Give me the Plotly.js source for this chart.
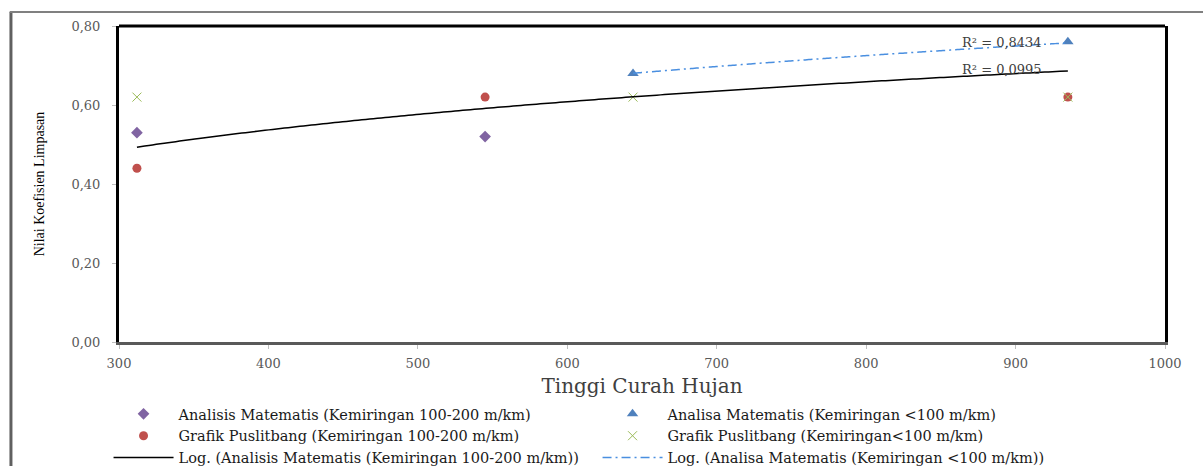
<!DOCTYPE html>
<html>
<head>
<meta charset="utf-8">
<script src="https://cdn.plot.ly/plotly-3.0.1.min.js"></script>
<style>html,body{margin:0;padding:0;background:#fff;}#chart{width:1203px;height:466px;}</style>
</head>
<body>
<div id="chart"></div>
<script>
// ---- data ----
var amSteepX = [312, 545];            // Analisis Matematis (Kemiringan 100-200 m/km)
var amSteepY = [0.53, 0.52];
var amFlatX = [644, 935];             // Analisa Matematis (Kemiringan <100 m/km)
var amFlatY = [0.68, 0.76];
var gpSteepX = [312, 545, 935];       // Grafik Puslitbang (Kemiringan 100-200 m/km)
var gpSteepY = [0.44, 0.62, 0.62];
var gpFlatX = [312, 644, 935];        // Grafik Puslitbang (Kemiringan<100 m/km)
var gpFlatY = [0.62, 0.62, 0.62];

// logarithmic trend lines y = a + b*ln(x), as drawn in the reference
var trendSteepRange = [312, 935];
var trendSteepCoef = [-0.517, 0.1759];
var trendSteepR2 = '0,0995';
var trendFlatRange = [644, 935];
var trendFlatCoef = [-0.656, 0.2066];
var trendFlatR2 = '0,8434';

var xTicks = [300, 400, 500, 600, 700, 800, 900, 1000];
var yTicks = [0, 0.2, 0.4, 0.6, 0.8];

function logCurve(range, coef) {
  var xs = [], ys = [], n = 120;
  for (var i = 0; i <= n; i++) {
    var x = range[0] + (range[1] - range[0]) * i / n;
    xs.push(x); ys.push(coef[0] + coef[1] * Math.log(x));
  }
  return {x: xs, y: ys};
}
var tS = logCurve(trendSteepRange, trendSteepCoef);
var tF = logCurve(trendFlatRange, trendFlatCoef);

var serif = 'DejaVu Serif, serif';
var traces = [
  {x: amSteepX, y: amSteepY, mode: 'markers', type: 'scatter',
   name: 'Analisis Matematis (Kemiringan 100-200 m/km)',
   marker: {symbol: 'diamond', color: '#8064A2', size: 9}},
  {x: amFlatX, y: amFlatY, mode: 'markers', type: 'scatter',
   name: 'Analisa Matematis (Kemiringan <100 m/km)',
   marker: {symbol: 'triangle-up', color: '#4F81BD', size: 10}},
  {x: gpSteepX, y: gpSteepY, mode: 'markers', type: 'scatter',
   name: 'Grafik Puslitbang (Kemiringan 100-200 m/km)',
   marker: {symbol: 'circle', color: '#C0504D', size: 9}},
  {x: gpFlatX, y: gpFlatY, mode: 'markers', type: 'scatter',
   name: 'Grafik Puslitbang (Kemiringan<100 m/km)',
   marker: {symbol: 'x-thin', color: '#9BBB59', size: 9, line: {color: '#9BBB59', width: 1}}},
  {x: tS.x, y: tS.y, mode: 'lines', type: 'scatter',
   name: 'Log. (Analisis Matematis (Kemiringan 100-200 m/km))',
   line: {color: '#000000', width: 1.5, shape: 'spline'}},
  {x: tF.x, y: tF.y, mode: 'lines', type: 'scatter',
   name: 'Log. (Analisa Matematis (Kemiringan <100 m/km))',
   line: {color: '#4A8FE0', width: 1.5, dash: '9px,4px,2px,4px', shape: 'spline'}}
];

var layout = {
  width: 1203, height: 466,
  margin: {l: 119, r: 38, t: 26, b: 124, autoexpand: false},
  paper_bgcolor: '#ffffff', plot_bgcolor: '#ffffff',
  separators: ',.',
  showlegend: true,
  font: {family: serif, color: '#1a1a1a'},
  xaxis: {
    range: [300, 1000], tickvals: xTicks, ticktext: xTicks.map(String),
    showgrid: false, zeroline: false, automargin: false,
    showline: true, linecolor: '#595959', linewidth: 3,
    ticks: 'outside', ticklen: 4, tickcolor: '#BFBFBF', ticklabelstandoff: 3,
    tickfont: {family: serif, size: 13, color: '#595959'},
    title: {text: 'Tinggi Curah Hujan', font: {family: serif, size: 20, color: '#404040'}, standoff: 10}
  },
  yaxis: {
    range: [0, 0.8], tickvals: yTicks, tickformat: '.2f',
    showgrid: false, zeroline: false, automargin: false,
    showline: true, linecolor: '#000000', linewidth: 3, mirror: true,
    ticks: 'outside', ticklen: 4, tickcolor: '#BFBFBF', ticklabelstandoff: 9,
    tickfont: {family: serif, size: 13, color: '#595959'},
    title: {text: 'Nilai Koefisien Limpasan', font: {family: 'Liberation Serif, serif', size: 14, color: '#000000'}, standoff: 24}
  },
  legend: {
    orientation: 'h', x: -0.01, xanchor: 'left', y: -0.177, yanchor: 'top',
    entrywidth: 414, entrywidthmode: 'pixels', itemwidth: 60,
    font: {family: serif, size: 14.5, color: '#1a1a1a'},
    bgcolor: 'rgba(0,0,0,0)'
  },
  shapes: [
    {type: 'line', xref: 'paper', yref: 'paper', x0: 0, x1: 1, y0: 1, y1: 1,
     line: {color: '#000000', width: 3}},
    {type: 'line', xref: 'paper', yref: 'paper', x0: -0.1033, x1: -0.1033, y0: 1.044, y1: -0.40,
     line: {color: '#606060', width: 3}},
    {type: 'line', xref: 'paper', yref: 'paper', x0: -0.1045, x1: 1.04, y0: 1.044, y1: 1.044,
     line: {color: '#808080', width: 2}}
  ],
  annotations: [
    {x: 863, y: 0.759, xref: 'x', yref: 'y', xanchor: 'left', yanchor: 'middle', showarrow: false,
     text: 'R² = ' + trendFlatR2, font: {family: serif, size: 13, color: '#404040'}},
    {x: 863, y: 0.69, xref: 'x', yref: 'y', xanchor: 'left', yanchor: 'middle', showarrow: false,
     text: 'R² = ' + trendSteepR2, font: {family: serif, size: 13, color: '#404040'}}
  ]
};

Plotly.newPlot('chart', traces, layout, {displayModeBar: false, staticPlot: true});
</script>
</body>
</html>
